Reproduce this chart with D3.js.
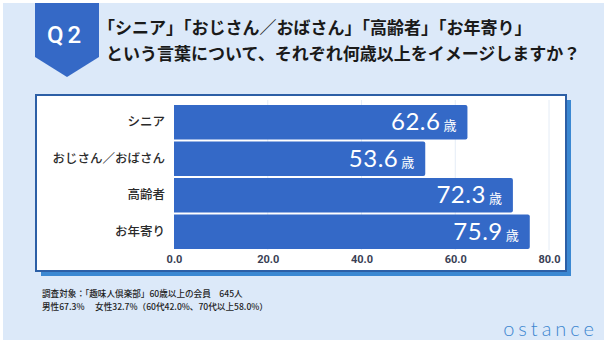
<!DOCTYPE html>
<html><head><meta charset="utf-8">
<script src="https://cdn.jsdelivr.net/npm/d3@7/dist/d3.min.js"></script>
<style>
html,body{margin:0;padding:0;background:#fff;}
svg{display:block;}
</style></head>
<body>
<script>
const categories = ["シニア", "おじさん／おばさん", "高齢者", "お年寄り"];
const values = [62.6, 53.6, 72.3, 75.9];
const unit = "歳";
const tickValues = [0, 20, 40, 60, 80];
const badgeText = "Q2";
const titleLines = ["「シニア」「おじさん／おばさん」「高齢者」「お年寄り」", "という言葉について、それぞれ何歳以上をイメージしますか？"];
const notes = ["調査対象：「趣味人倶楽部」60歳以上の会員　645人", "男性67.3%　 女性32.7%（60代42.0%、70代以上58.0%）"];
const logoText = "ostance";

const W = 607, H = 343;
const JP = "'Noto Sans CJK JP','Noto Sans',sans-serif";
const svg = d3.select("body").append("svg").attr("width", W).attr("height", H);

// page background
svg.append("rect").attr("x", 0).attr("y", 0).attr("width", W).attr("height", H).attr("fill", "#ffffff");
svg.append("rect").attr("x", 3).attr("y", 3).attr("width", W - 6).attr("height", H - 6).attr("fill", "#dce9f9");

// badge
svg.append("path")
  .attr("d", "M35,3 L99,3 L99,57 L67,77 L35,57 Z")
  .attr("fill", "#3569c6");
svg.append("text").attr("x", 66).attr("y", 43).attr("text-anchor", "middle")
  .attr("font-family", "Roboto,'Noto Sans',sans-serif").attr("font-weight", 500)
  .attr("font-size", 24).attr("letter-spacing", 4).attr("fill", "#fff").text(badgeText);

// title
const title = svg.append("text").attr("font-family", JP).attr("font-weight", 700)
  .attr("font-size", 17).attr("fill", "#1a1a1a");
title.append("tspan").attr("x", 98).attr("y", 34).text(titleLines[0]);
title.append("tspan").attr("x", 106).attr("y", 60).text(titleLines[1]);

// panel
const panel = {x: 36, y: 95, w: 530, h: 176};
svg.append("rect").attr("x", panel.x + 5).attr("y", panel.y + 5).attr("width", panel.w).attr("height", panel.h).attr("fill", "#3b88d2");
svg.append("rect").attr("x", panel.x).attr("y", panel.y).attr("width", panel.w).attr("height", panel.h)
  .attr("fill", "#fff").attr("stroke", "#2c5fa6").attr("stroke-width", 2);

// scales
const x = d3.scaleLinear().domain([0, 80]).range([174, 549]);
const y = d3.scaleBand().domain(categories).range([104, 250]).paddingInner(0.06).paddingOuter(0.03);

// gridlines
svg.append("g").selectAll("line").data(tickValues.slice(1)).join("line")
  .attr("x1", d => x(d)).attr("x2", d => x(d)).attr("y1", 100).attr("y2", 250)
  .attr("stroke", "#e4ecf6").attr("stroke-width", 1);

// bars
const data = categories.map((c, i) => ({c, v: values[i]}));
svg.append("g").selectAll("path").data(data).join("path")
  .attr("d", d => {
    const x0 = x(0), x1 = x(d.v), y0 = y(d.c), h = y.bandwidth(), r = 2;
    return `M${x0},${y0} H${x1 - r} Q${x1},${y0} ${x1},${y0 + r} V${y0 + h - r} Q${x1},${y0 + h} ${x1 - r},${y0 + h} H${x0} Z`;
  })
  .attr("fill", "#3469c7");

// value labels
const vl = svg.append("g").selectAll("text").data(data).join("text")
  .attr("x", d => x(d.v) - 11).attr("y", d => y(d.c) + y.bandwidth() / 2 + 8)
  .attr("text-anchor", "end").attr("fill", "#fff");
vl.append("tspan").attr("font-family", "Lato,'Open Sans',sans-serif").attr("font-size", 24)
  .attr("font-weight", 400).attr("letter-spacing", 0.5).text(d => d.v.toFixed(1));
vl.append("tspan").attr("dx", 3).attr("font-family", JP).attr("font-size", 13).text(unit);

// category axis labels
const yAxis = d3.axisLeft(y).tickSize(0).tickPadding(0);
const gy = svg.append("g").attr("transform", "translate(165,0)").call(yAxis);
gy.select(".domain").remove();
gy.selectAll("text").attr("font-family", JP).attr("font-size", 12.5).attr("font-weight", 500).attr("fill", "#2a2a2a");

// x axis
const xAxis = d3.axisBottom(x).tickValues(tickValues).tickFormat(d3.format(".1f")).tickSize(0).tickPadding(0);
const gx = svg.append("g").attr("transform", "translate(0,255)").call(xAxis);
gx.select(".domain").remove();
gx.selectAll("text").attr("font-family", "Roboto,'Noto Sans',sans-serif").attr("font-size", 11)
  .attr("font-weight", 700).attr("fill", "#3a3f55").attr("dy", "0.71em");

// notes
svg.append("g").selectAll("text").data(notes).join("text")
  .attr("x", 42).attr("y", (d, i) => 297 + i * 13)
  .attr("font-family", JP).attr("font-size", 8.6).attr("font-weight", 500).attr("fill", "#1e1e1e")
  .text(d => d);

// logo
svg.append("text").attr("x", 598).attr("y", 336).attr("text-anchor", "end")
  .attr("font-family", "Lato,'Open Sans',sans-serif").attr("font-weight", 300)
  .attr("font-size", 20).attr("letter-spacing", 4).attr("fill", "#3d86d0").text(logoText);
</script>
</body></html>
